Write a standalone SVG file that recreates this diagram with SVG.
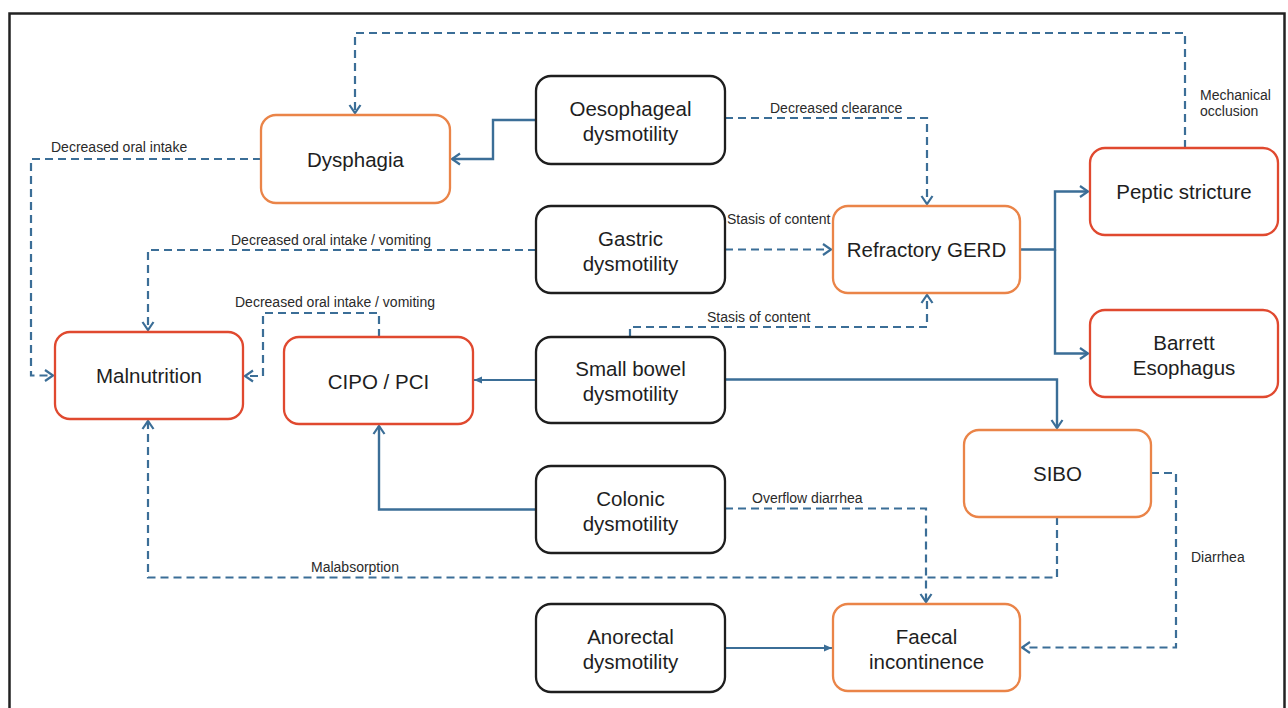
<svg xmlns="http://www.w3.org/2000/svg" width="1288" height="708" viewBox="0 0 1288 708">
<style>
.box{fill:#fff;stroke-width:2.3}
.blk{stroke:#1e1e1e}
.org{stroke:#ea8448}
.red{stroke:#e0492f}
.nt{font-family:"Liberation Sans",Arial,sans-serif;font-size:20.5px;fill:#1e1e1e;text-anchor:middle}
.lb{font-family:"Liberation Sans",Arial,sans-serif;font-size:14px;fill:#2a2a2a}
.d{fill:none;stroke:#3b6e97;stroke-width:2.2;stroke-dasharray:8 5;marker-end:url(#open)}
.s{fill:none;stroke:#3b6e97;stroke-width:2.4;marker-end:url(#open)}
.sf{fill:none;stroke:#3b6e97;stroke-width:1.8;marker-end:url(#fill)}
</style>
<defs>
<marker id="open" markerUnits="userSpaceOnUse" markerWidth="14" markerHeight="14" viewBox="0 0 14 14" refX="11" refY="7" orient="auto">
<path d="M3,1.5 L11,7 L3,12.5" fill="none" stroke="#3b6e97" stroke-width="2.2"/>
</marker>
<marker id="fill" markerUnits="userSpaceOnUse" markerWidth="10" markerHeight="10" viewBox="0 0 10 10" refX="9" refY="5" orient="auto">
<path d="M1,1.5 L9,5 L1,8.5 z" fill="#3b6e97"/>
</marker>
</defs>
<rect x="9.5" y="13.5" width="1275" height="702" fill="#fff" stroke="#222" stroke-width="2.5"/>

<g id="connectors">
<path class="d" d="M1185,148 V33 H355 V113"/>
<path class="d" d="M725,118 H927 V204"/>
<path class="d" d="M725,249.5 H831"/>
<path class="d" d="M536,250 H148 V330"/>
<path class="d" d="M261,159 H31 V375.5 H53"/>
<path class="d" d="M379,337 V313 H263 V376 H245"/>
<path class="d" d="M630,337 V327 H927 V295"/>
<path class="d" d="M725,508.5 H926 V602"/>
<path class="d" d="M1057,517 V577.5 H148 V421"/>
<path class="d" d="M1151,473 H1176 V647.5 H1022"/>
<path class="s" d="M536,120 H493 V159 H452"/>
<path class="s" d="M1020,249.5 H1055 V191.5 H1088"/>
<path class="s" d="M1055,249.5 V353.5 H1088"/>
<path class="sf" d="M536,380 H474"/>
<path class="s" d="M725,379.5 H1057 V428"/>
<path class="s" d="M536,509.5 H379 V426"/>
<path class="sf" d="M725,648 H832"/>
</g>

<g id="labels">
<text class="lb" x="51" y="151.7">Decreased oral intake</text>
<text class="lb" x="231" y="245">Decreased oral intake / vomiting</text>
<text class="lb" x="235" y="306.7">Decreased oral intake / vomiting</text>
<text class="lb" x="770" y="112.7">Decreased clearance</text>
<text class="lb" x="727" y="224">Stasis of content</text>
<text class="lb" x="707" y="321.7">Stasis of content</text>
<text class="lb" x="1200" y="100">Mechanical</text>
<text class="lb" x="1200" y="116">occlusion</text>
<text class="lb" x="311" y="571.7">Malabsorption</text>
<text class="lb" x="752" y="503.3">Overflow diarrhea</text>
<text class="lb" x="1191" y="562.3">Diarrhea</text>
</g>

<g id="oesophageal"><rect class="box blk" x="536" y="76" width="189" height="88" rx="15"/><text class="nt" x="630.5" y="116">Oesophageal</text><text class="nt" x="630.5" y="141">dysmotility</text></g>
<g id="gastric"><rect class="box blk" x="536" y="206" width="189" height="87" rx="15"/><text class="nt" x="630.5" y="245.5">Gastric</text><text class="nt" x="630.5" y="270.5">dysmotility</text></g>
<g id="smallbowel"><rect class="box blk" x="536" y="337" width="189" height="86" rx="15"/><text class="nt" x="630.5" y="376">Small bowel</text><text class="nt" x="630.5" y="401">dysmotility</text></g>
<g id="colonic"><rect class="box blk" x="536" y="466" width="189" height="87" rx="15"/><text class="nt" x="630.5" y="505.5">Colonic</text><text class="nt" x="630.5" y="530.5">dysmotility</text></g>
<g id="anorectal"><rect class="box blk" x="536" y="604" width="189" height="88" rx="15"/><text class="nt" x="630.5" y="644">Anorectal</text><text class="nt" x="630.5" y="669">dysmotility</text></g>
<g id="dysphagia"><rect class="box org" x="261" y="115" width="189" height="88" rx="15"/><text class="nt" x="355.5" y="166.5">Dysphagia</text></g>
<g id="malnutrition"><rect class="box red" x="55" y="332" width="188" height="87" rx="15"/><text class="nt" x="149" y="383">Malnutrition</text></g>
<g id="cipo"><rect class="box red" x="284" y="337" width="189" height="87" rx="15"/><text class="nt" x="378.5" y="388.5">CIPO / PCI</text></g>
<g id="gerd"><rect class="box org" x="833" y="206" width="187" height="87" rx="15"/><text class="nt" x="926.5" y="257">Refractory GERD</text></g>
<g id="peptic"><rect class="box red" x="1090" y="148" width="188" height="87" rx="15"/><text class="nt" x="1184" y="199">Peptic stricture</text></g>
<g id="barrett"><rect class="box red" x="1090" y="310" width="188" height="87" rx="15"/><text class="nt" x="1184" y="349.5">Barrett</text><text class="nt" x="1184" y="374.5">Esophagus</text></g>
<g id="sibo"><rect class="box org" x="964" y="430" width="187" height="87" rx="15"/><text class="nt" x="1057.5" y="481">SIBO</text></g>
<g id="faecal"><rect class="box org" x="833" y="604" width="187" height="87" rx="15"/><text class="nt" x="926.5" y="643.5">Faecal</text><text class="nt" x="926.5" y="668.5">incontinence</text></g>
</svg>
